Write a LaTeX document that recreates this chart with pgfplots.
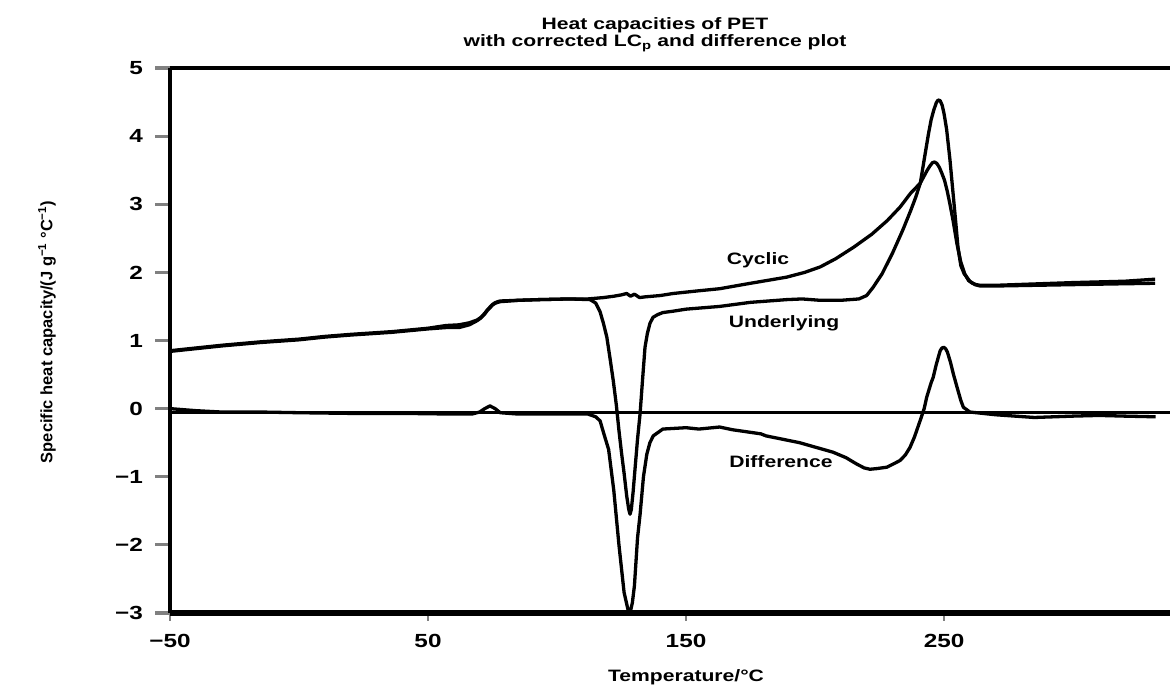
\documentclass[border=0pt]{standalone}
\usepackage{fontspec}
\setmainfont{Liberation Sans}[FakeStretch=1.28]
\newfontfamily\ylabfont{Liberation Sans}
\usepackage{pgfplots}
\pgfplotsset{compat=1.18}
\begin{document}
\begin{tikzpicture}[x=1pt,y=1pt]
\useasboundingbox (0,0) rectangle (1170,688);
\begin{axis}[
  at={(170pt,75pt)}, anchor=south west,
  width=1000pt, height=545pt, scale only axis,
  xmin=-50, xmax=337.6, ymin=-3, ymax=5,
  axis x line*=bottom, axis y line*=left,
  x axis line style={line width=6.5pt},
  y axis line style={line width=3.8pt},
  xtick={-50,50,150,250}, xticklabels={−50,50,150,250},
  ytick={-3,-2,-1,0,1,2,3,4,5}, yticklabels={−3,−2,−1,0,1,2,3,4,5},
  tick align=outside,
  major tick length=15pt,
  xtick style={line width=2.8pt, /pgfplots/major tick length=8pt},
  ytick style={line width=3.2pt},
  ticklabel style={font=\fontsize{19}{20}\selectfont\bfseries},
  yticklabel style={inner sep=0pt, xshift=-12pt},
  xticklabel style={inner sep=0pt, yshift=-6pt},
  clip=false,
]
% top frame line and zero baseline
\addplot[black, line width=3.4pt] coordinates {(-50,5) (337.6,5)};
\addplot[black, line width=2.8pt] coordinates {(-50,-0.06) (337.6,-0.06)};
% Cyclic
\addplot[black, line width=3.3pt, line join=round] table {
-50 0.85
-40 0.89
-30 0.93
-15 0.98
0 1.02
10 1.06
20 1.09
36 1.13
50 1.18
57 1.22
62 1.23
66 1.26
69 1.30
70.5 1.34
72 1.40
73 1.45
74 1.49
75 1.53
76 1.555
77 1.57
78 1.58
85 1.59
93 1.60
105 1.61
112 1.61
118 1.63
122 1.65
125 1.67
127 1.69
128.5 1.65
130 1.68
132 1.63
134 1.64
140 1.66
145 1.69
155 1.73
163 1.76
175 1.84
189 1.93
196 2.00
202 2.08
208 2.20
215 2.37
222 2.56
228 2.76
233 2.96
237 3.16
240.8 3.31
243.5 3.50
244.5 3.56
245.5 3.61
246.3 3.62
247.2 3.60
248.2 3.54
249.2 3.45
250.2 3.35
251.2 3.20
252.3 3.00
253.5 2.76
255 2.42
256.5 2.15
258 1.98
259.5 1.88
261 1.84
262.5 1.82
264 1.81
270 1.81
285 1.83
300 1.85
310 1.86
320 1.87
331.8 1.90
};
% Underlying
\addplot[black, line width=3.3pt, line join=round] table {
-50 0.84
-40 0.88
-30 0.92
-15 0.97
0 1.01
10 1.05
20 1.08
36 1.12
50 1.17
57 1.19
62 1.19
66 1.23
69 1.29
70.5 1.33
72 1.39
73 1.44
74 1.48
75 1.52
76 1.545
77 1.56
78 1.57
85 1.59
93 1.60
105 1.61
112.8 1.60
115 1.55
116.7 1.42
118 1.25
119.3 1.05
120.5 0.75
121.8 0.41
123 0.05
124 -0.32
125 -0.65
126 -0.95
127 -1.28
127.8 -1.48
128.3 -1.55
128.8 -1.48
129.5 -1.22
130.2 -0.90
131.2 -0.45
132.2 -0.07
133.2 0.45
134.1 0.90
135 1.10
136 1.25
137.2 1.34
139 1.38
141 1.41
145 1.43
150 1.46
163 1.50
175 1.56
189 1.60
195 1.61
202 1.59
210 1.59
217 1.61
220 1.66
222.5 1.78
226 1.98
230 2.28
234 2.62
237 2.90
239 3.10
240.8 3.31
242.5 3.70
244 4.04
245 4.24
246 4.38
247 4.49
247.7 4.53
248.5 4.52
249.3 4.45
250 4.33
251 4.10
252.3 3.65
253.5 3.16
254.5 2.75
255.4 2.37
256.5 2.10
257.8 1.98
258.8 1.93
260 1.87
262 1.82
264 1.80
270 1.80
285 1.81
300 1.82
315 1.83
331.8 1.84
};
% Difference
\addplot[black, line width=3.3pt, line join=round] table {
-50 0.00
-40 -0.03
-30 -0.05
-15 -0.05
0 -0.06
20 -0.07
40 -0.07
60 -0.08
67 -0.08
70 -0.05
72 0.00
74 0.04
76 0.00
78 -0.06
85 -0.08
100 -0.08
112 -0.08
115 -0.12
116.7 -0.18
118 -0.35
120 -0.60
122 -1.20
124 -2.00
126 -2.70
127.5 -2.95
128.3 -3.00
129.2 -2.85
130 -2.60
131.2 -1.90
132.2 -1.55
133.5 -1.00
134.8 -0.67
136 -0.50
137.3 -0.40
141 -0.30
150 -0.28
155 -0.30
163 -0.27
168 -0.31
179 -0.37
181 -0.40
194 -0.50
207 -0.64
212 -0.72
216 -0.81
219 -0.87
221.3 -0.89
224 -0.88
227.8 -0.86
231 -0.80
233 -0.76
235 -0.68
236.8 -0.57
238.5 -0.42
240.7 -0.18
242.3 0.00
243.3 0.17
245 0.38
245.8 0.46
247 0.65
248.5 0.85
249.2 0.89
249.9 0.90
250.6 0.88
251.3 0.83
252.5 0.68
253.6 0.51
255 0.32
256.5 0.12
257.5 0.02
260 -0.05
270 -0.09
285 -0.13
300 -0.11
310 -0.10
320 -0.11
332 -0.12
};
\node[font=\fontsize{16.5}{18}\selectfont\bfseries] at (axis cs:177.9,2.18) {Cyclic};
\node[font=\fontsize{16.5}{18}\selectfont\bfseries] at (axis cs:188,1.26) {Underlying};
\node[font=\fontsize{16.5}{18}\selectfont\bfseries] at (axis cs:186.8,-0.78) {Difference};
\end{axis}
\node[anchor=base, font=\fontsize{16.5}{18}\selectfont\bfseries] at (655,658) {Heat capacities of PET};
\node[anchor=base, font=\fontsize{16.5}{18}\selectfont\bfseries] at (655,641) {with corrected LC\textsubscript{p} and difference plot};
\node[anchor=base, font=\fontsize{16.5}{18}\selectfont\bfseries] at (686,6) {Temperature/°C};
\node[rotate=90, font=\ylabfont\bfseries\fontsize{16.5}{18}\selectfont] at (47,356) {Specific heat capacity/(J g\textsuperscript{−1} °C\textsuperscript{−1})};
\end{tikzpicture}
\end{document}
